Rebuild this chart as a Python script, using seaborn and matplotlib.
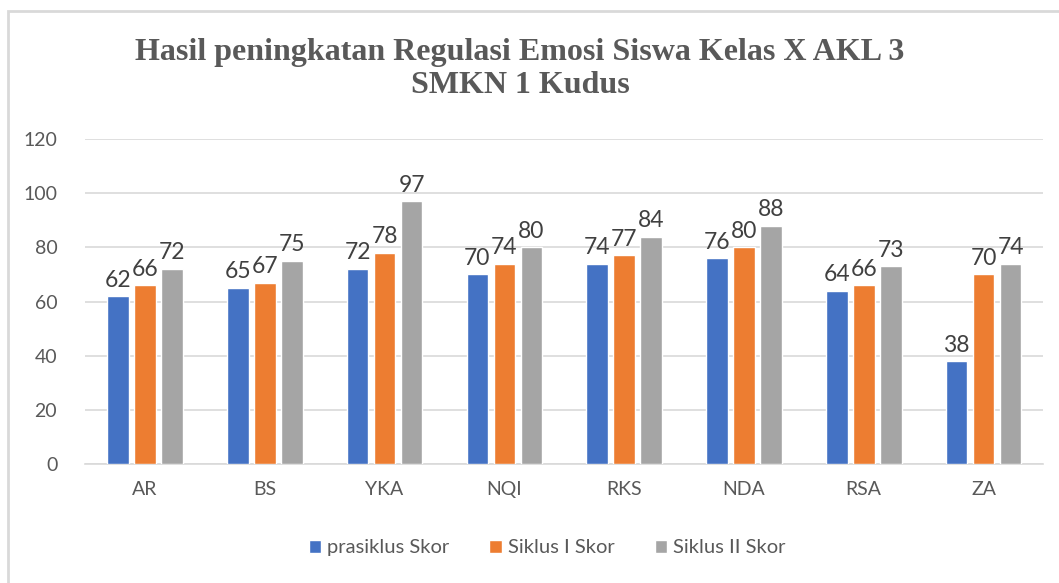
import pandas as pd
import matplotlib.pyplot as plt
import seaborn as sns
from matplotlib.patches import Rectangle

# Data
siswa = ['AR', 'BS', 'YKA', 'NQI', 'RKS', 'NDA', 'RSA', 'ZA']
prasiklus = [62, 65, 72, 70, 74, 76, 64, 38]
siklus_1 = [66, 67, 78, 74, 77, 80, 66, 70]
siklus_2 = [72, 75, 97, 80, 84, 88, 73, 74]
series_names = ['prasiklus Skor', 'Siklus I Skor', 'Siklus II Skor']
colors = ['#4472C4', '#ED7D31', '#A5A5A5']

df = pd.DataFrame({'Siswa': siswa, series_names[0]: prasiklus,
                   series_names[1]: siklus_1, series_names[2]: siklus_2})
long_df = df.melt(id_vars='Siswa', var_name='Seri', value_name='Skor')

sns.set_style('white')
plt.rcParams['font.family'] = ['Lato', 'DejaVu Sans']

fig = plt.figure(figsize=(10.59, 5.83), dpi=100)
ax = fig.add_axes([0.0803, 0.204, 0.905, 0.5576])

sns.barplot(data=long_df, x='Siswa', y='Skor', hue='Seri', palette=colors,
            width=0.676, gap=0.2, saturation=1, ax=ax, legend=True, zorder=3)

# data labels
for cont in ax.containers:
    ax.bar_label(cont, fmt='%g', fontsize=16.5, color='#404040', padding=4)

ax.set_ylim(0, 120)
ax.set_yticks(range(0, 121, 20))
ax.set_xlim(-0.5, len(siswa) - 0.5)
ax.grid(axis='y', color='#D9D9D9', linewidth=1.2, zorder=0)
ax.set_axisbelow(True)
for side in ['top', 'right', 'left']:
    ax.spines[side].set_visible(False)
ax.spines['bottom'].set_color('#D9D9D9')
ax.spines['bottom'].set_linewidth(1.2)
ax.tick_params(axis='both', length=0, labelsize=14, labelcolor='#595959')
ax.tick_params(axis='x', pad=12)
ax.tick_params(axis='y', pad=20)
ax.set_xlabel('')
ax.set_ylabel('')

fig.text(0.491, 0.882, 'Hasil peningkatan Regulasi Emosi Siswa Kelas X AKL 3\nSMKN 1 Kudus',
         ha='center', va='center', fontsize=23, fontweight='bold',
         family='Liberation Serif', color='#595959', linespacing=1.2)

handles, labels = ax.get_legend_handles_labels()
ax.legend(handles, labels, loc='center', bbox_to_anchor=(0.482, -0.258), ncol=3,
          frameon=False, fontsize=14.5, labelcolor='#595959', handlelength=0.6,
          handleheight=0.6, handletextpad=0.3, columnspacing=2.0)

# chart border
fig.patches.append(Rectangle((8 / 1059, -0.1), 1.2, 1 - 11 / 583 + 0.1,
                             transform=fig.transFigure, fill=False,
                             edgecolor='#D9D9D9', linewidth=2))

fig.savefig('out.png', dpi=100, facecolor='white')
